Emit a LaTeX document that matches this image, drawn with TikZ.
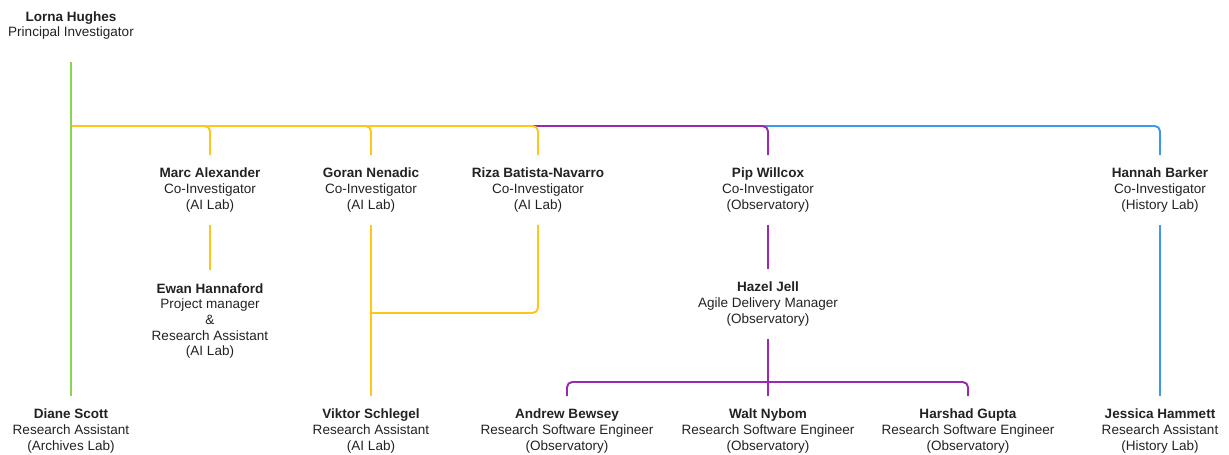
\documentclass[tikz,border=0pt]{standalone}
\usepackage{fontspec}
\setmainfont{Liberation Sans}
\usepackage{xcolor}
\usetikzlibrary{positioning}
\definecolor{labgreen}{HTML}{8CD44E}
\definecolor{labyellow}{HTML}{FFC61A}
\definecolor{labpurple}{HTML}{9C27B0}
\definecolor{labblue}{HTML}{3A9AF0}
\definecolor{labtext}{HTML}{222222}
\begin{document}
\begin{tikzpicture}[x=0.02cm,y=-0.02cm]
\tikzstyle{every node}+=[inner sep=0pt]
\tikzstyle{person}=[align=center,outer xsep=0pt,outer ysep=0.26cm,text=labtext,font=\fontsize{7.7}{8.9}\selectfont]
\tikzstyle{link}=[line width=1.1pt,rounded corners=3pt]
\useasboundingbox (0,0) rectangle (1229,455);
\draw (71,25.5) node [person] (lorna) {\textbf{Lorna Hughes}\\Principal Investigator};
\draw (210,190) node [person] (marc) {\textbf{Marc Alexander}\\Co-Investigator\\(AI Lab)};
\draw (371,190) node [person] (goran) {\textbf{Goran Nenadic}\\Co-Investigator\\(AI Lab)};
\draw (538,190) node [person] (riza) {\textbf{Riza Batista-Navarro}\\Co-Investigator\\(AI Lab)};
\draw (768,190) node [person] (pip) {\textbf{Pip Willcox}\\Co-Investigator\\(Observatory)};
\draw (1160,190) node [person] (hannah) {\textbf{Hannah Barker}\\Co-Investigator\\(History Lab)};
\draw (210,321) node [person] (ewan) {\textbf{Ewan Hannaford}\\Project manager\\\&\\Research Assistant\\(AI Lab)};
\draw (768,304) node [person] (hazel) {\textbf{Hazel Jell}\\Agile Delivery Manager\\(Observatory)};
\draw (71,431) node [person] (diane) {\textbf{Diane Scott}\\Research Assistant\\(Archives Lab)};
\draw (371,431) node [person] (viktor) {\textbf{Viktor Schlegel}\\Research Assistant\\(AI Lab)};
\draw (567,431) node [person] (andrew) {\textbf{Andrew Bewsey}\\Research Software Engineer\\(Observatory)};
\draw (768,431) node [person] (walt) {\textbf{Walt Nybom}\\Research Software Engineer\\(Observatory)};
\draw (968,431) node [person] (harshad) {\textbf{Harshad Gupta}\\Research Software Engineer\\(Observatory)};
\draw (1160,431) node [person] (jessica) {\textbf{Jessica Hammett}\\Research Assistant\\(History Lab)};
\coordinate (root) at (71,62);
\coordinate (bus) at (71,126);
\coordinate (join) at (371,313);
\coordinate (fork) at (768,382);
\draw [link,labblue] (bus) -| (hannah.north);
\draw [link,labblue] (hannah.south) -- (jessica.north);
\draw [link,labpurple] (bus) -| (pip.north);
\draw [link,labpurple] (pip.south) -- (hazel.north);
\draw [link,labpurple] (hazel.south) -- (walt.north);
\draw [link,labpurple] (fork) -| (andrew.north);
\draw [link,labpurple] (fork) -| (harshad.north);
\draw [link,labyellow] (bus) -| (riza.north);
\draw [link,labyellow] (bus) -| (goran.north);
\draw [link,labyellow] (bus) -| (marc.north);
\draw [link,labyellow] (marc.south) -- (ewan.north);
\draw [link,labyellow] (goran.south) -- (viktor.north);
\draw [link,labyellow] (riza.south) |- (join);
\draw [link,labgreen] (root) -- (diane.north);
\end{tikzpicture}
\end{document}
